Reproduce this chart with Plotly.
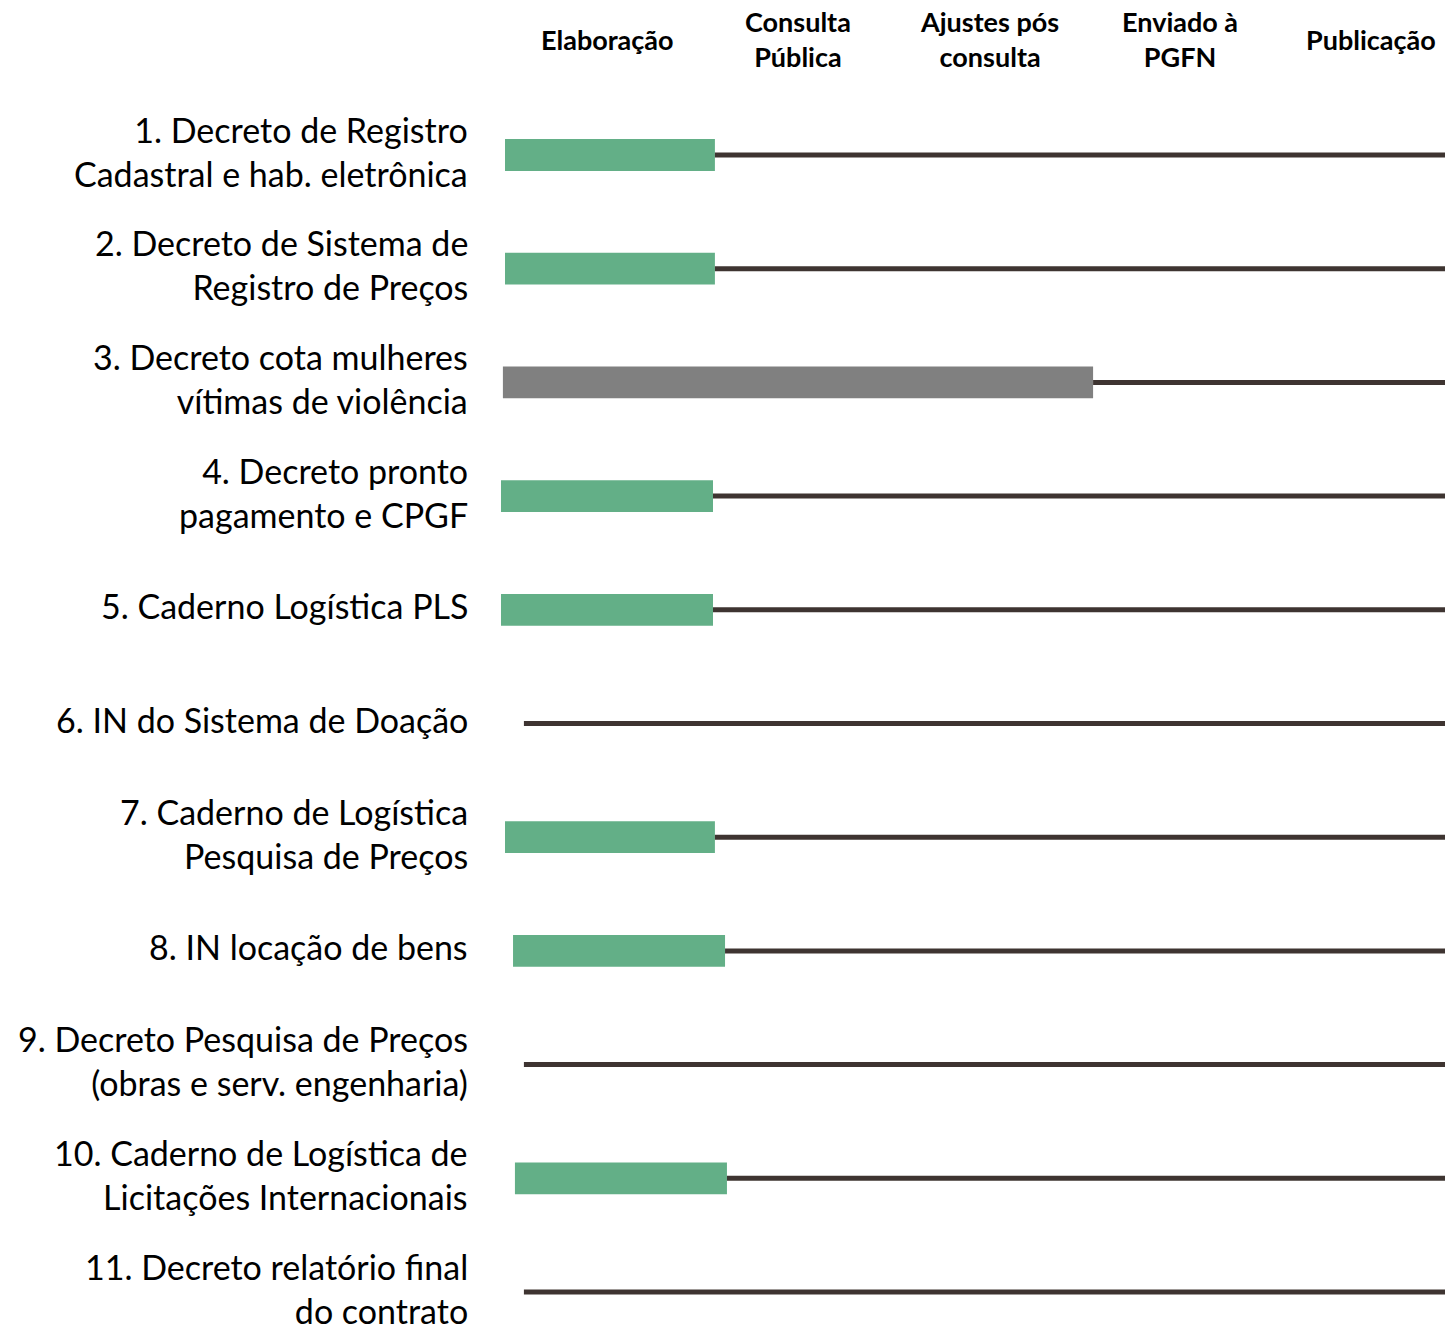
import plotly.graph_objects as go

stages = ["Elaboração", "Consulta<br>Pública", "Ajustes pós<br>consulta", "Enviado à<br>PGFN", "Publicação"]

labels = [
    "1. Decreto de Registro<br>Cadastral e hab. eletrônica",
    "2. Decreto de Sistema de<br>Registro de Preços",
    "3. Decreto cota mulheres<br>vítimas de violência",
    "4. Decreto pronto<br>pagamento e CPGF",
    "5. Caderno Logística PLS",
    "6. IN do Sistema de Doação",
    "7. Caderno de Logística<br>Pesquisa de Preços",
    "8. IN locação de bens",
    "9. Decreto Pesquisa de Preços<br>(obras e serv. engenharia)",
    "10. Caderno de Logística de<br>Licitações Internacionais",
    "11. Decreto relatório final<br>do contrato",
]

# progress bars in stage units (0 = Elaboração centre); None = no bar
bar_start = [-0.534, -0.534, -0.545, -0.555, -0.555, None, -0.534, -0.492, None, -0.482, None]
bar_end = [0.565, 0.565, 2.545, 0.555, 0.555, None, 0.565, 0.618, None, 0.628, None]
bar_status = ["green", "green", "gray", "green", "green", None, "green", "green", None, "green", None]
timeline_start_empty = -0.435
timeline_end = 4.40

colors = {"green": "#63AF87", "gray": "#808080"}
line_color = "#3E3431"

rows = list(range(1, len(labels) + 1))
fig = go.Figure()

# timeline lines
for r, s, e in zip(rows, bar_start, bar_end):
    x0 = e if e is not None else timeline_start_empty
    fig.add_trace(go.Scatter(x=[x0, timeline_end], y=[r, r], mode="lines",
                             line=dict(color=line_color, width=5),
                             showlegend=False, hoverinfo="skip"))

# bars
for status in ["green", "gray"]:
    ys, bases, lens = [], [], []
    for r, s, e, st in zip(rows, bar_start, bar_end, bar_status):
        if st == status:
            ys.append(r)
            bases.append(s)
            lens.append(e - s)
    fig.add_trace(go.Bar(y=ys, x=lens, base=bases, orientation="h",
                         marker=dict(color=colors[status], line=dict(width=0)),
                         width=0.28, showlegend=False, hoverinfo="skip"))

# row labels
for r, lab in zip(rows, labels):
    fig.add_annotation(x=-0.733, y=r, xref="x", yref="y", text=lab,
                       showarrow=False, xanchor="right", yanchor="middle",
                       align="right", xshift=3, yshift=4,
                       font=dict(family="Lato", size=34, color="#000000"))

# stage headers
for i, st in enumerate(stages):
    fig.add_annotation(x=i, y=0.9705, xref="x", yref="paper", text="<b>" + st + "</b>",
                       showarrow=False, xanchor="center", yanchor="middle",
                       align="center",
                       font=dict(family="Lato", size=27, color="#000000"))

W, H = 1445, 1325
Y0, DY = 155, 113.7       # pixel of row 1, pixels per row
X0, DX = 607, 191         # pixel of stage 0, pixels per stage
fig.update_layout(
    width=W, height=H,
    margin=dict(l=0, r=0, t=0, b=0),
    paper_bgcolor="white", plot_bgcolor="white",
    barmode="overlay",
    xaxis=dict(range=[-X0 / DX, (W - X0) / DX], visible=False, fixedrange=True),
    yaxis=dict(range=[1 + (H - Y0) / DY, 1 - Y0 / DY], visible=False, fixedrange=True),
)

fig.write_html(
    "out.html",
    config={"displayModeBar": False},
    post_script="document.body.style.margin='0';document.body.style.overflow='hidden';",
)
